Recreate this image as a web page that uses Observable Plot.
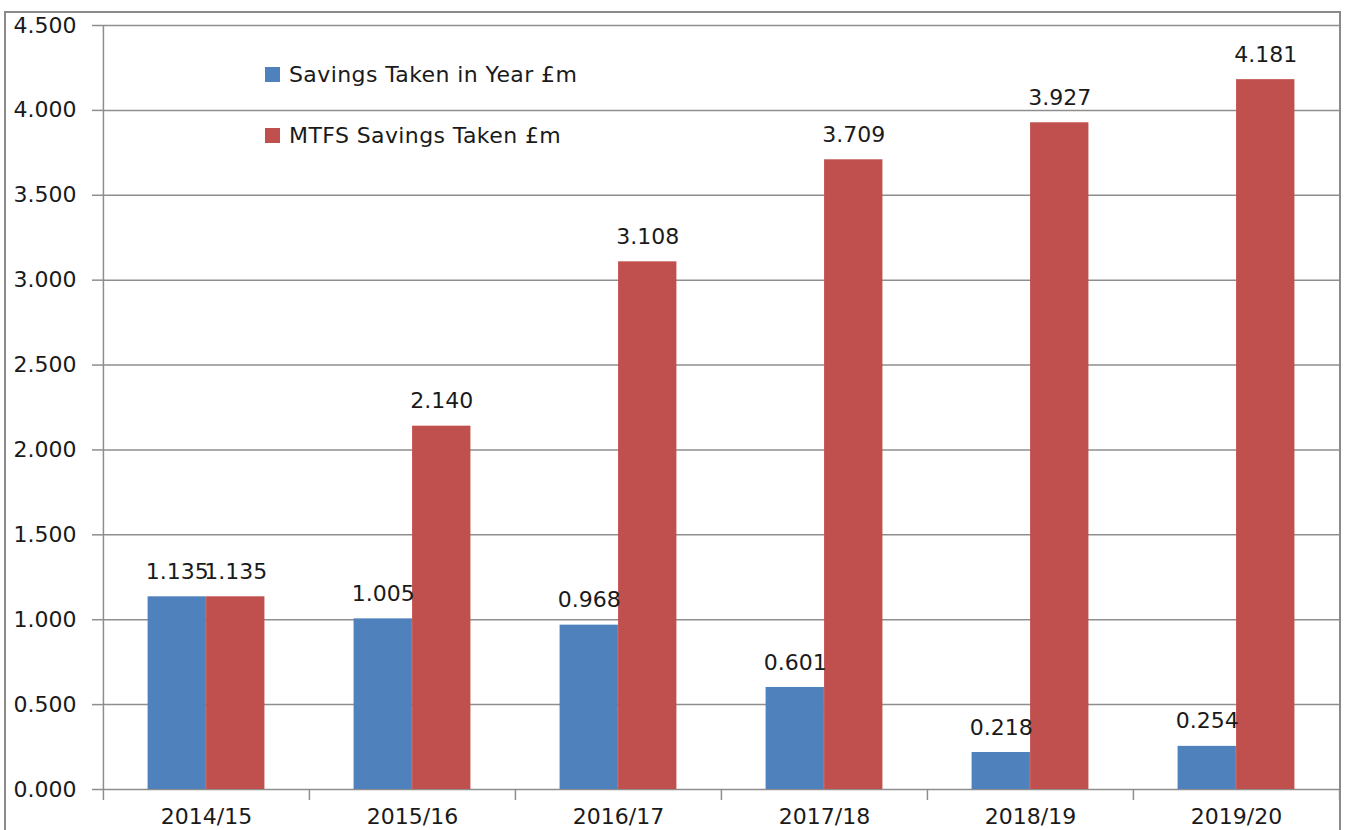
<!DOCTYPE html>
<html><head><meta charset="utf-8">
<script src="https://cdn.jsdelivr.net/npm/d3@7"></script>
<script src="https://cdn.jsdelivr.net/npm/@observablehq/plot@0.6"></script>
<style>
body{margin:0;background:#fff;font-family:"DejaVu Sans",sans-serif;}
#wrap{position:relative;width:1346px;height:830px;overflow:hidden;}
#border{position:absolute;left:4px;top:11px;width:1333px;height:830px;border:2px solid #8a8a8a;border-bottom:none;}
.leg{position:absolute;left:265px;font-size:22px;color:#1a1a1a;display:flex;align-items:center;white-space:nowrap;letter-spacing:0.4px;}
.leg span.sw{display:inline-block;width:15px;height:15px;margin-right:9px;}
</style></head><body>
<div id="wrap"><div id="border"></div><div id="chart"></div>
<div class="leg" style="top:62px"><span class="sw" style="background:#4F81BD"></span>Savings Taken in Year £m</div>
<div class="leg" style="top:123px"><span class="sw" style="background:#C0504D"></span>MTFS Savings Taken £m</div>
</div>
<script>
const years = ["2014/15","2015/16","2016/17","2017/18","2018/19","2019/20"];
const inYear = [1.135,1.005,0.968,0.601,0.218,0.254];
const mtfs = [1.135,2.140,3.108,3.709,3.927,4.181];
const yTicks = [0,0.5,1,1.5,2,2.5,3,3.5,4,4.5];

const W = 1346, H = 830, ML = 102, MR = 7, MT = 25, MB = 41;
const bw = (W - ML - MR) / years.length;
const barW = 58.5;
const blue = "#4F81BD", red = "#C0504D", grid = "#8e8e8e";

const dA = years.map((y,i)=>({year:y, value:inYear[i]}));
const dB = years.map((y,i)=>({year:y, value:mtfs[i]}));
const font = "DejaVu Sans";

const plot = Plot.plot({
  width: W, height: H,
  marginLeft: ML, marginRight: MR, marginTop: MT, marginBottom: MB,
  style: {fontFamily: font, fontSize: "22px", color: "#1a1a1a", background: "transparent", overflow: "visible"},
  x: {domain: years, padding: 0, label: null},
  y: {domain: [0, 4.5], label: null},
  marks: [
    Plot.gridY(yTicks, {stroke: grid, strokeOpacity: 1, strokeWidth: 1.5}),
    Plot.barY(dA, {x: "year", y: "value", fill: blue, insetLeft: bw/2 - barW, insetRight: bw/2}),
    Plot.barY(dB, {x: "year", y: "value", fill: red, insetLeft: bw/2, insetRight: bw/2 - barW}),
    Plot.text(dA, {x: "year", y: "value", text: d => d3.format(".3f")(d.value), dx: -barW/2, dy: -25, fontSize: 22, fill: "#1a1a1a"}),
    Plot.text(dB, {x: "year", y: "value", text: d => d3.format(".3f")(d.value), dx: barW/2, dy: -25, fontSize: 22, fill: "#1a1a1a"}),
    // y axis line
    Plot.ruleX([years[0]], {dx: -bw/2, stroke: grid, strokeWidth: 1.5, insetBottom: -11}),
    // x category boundary ticks
    Plot.ruleX(years.slice(1), {dx: -bw/2, stroke: grid, strokeWidth: 1.5, insetTop: H - MT - MB, insetBottom: -11}),
    Plot.ruleX([years[years.length-1]], {dx: bw/2, stroke: grid, strokeWidth: 1.5, insetTop: H - MT - MB, insetBottom: -11}),
    Plot.axisY(yTicks, {tickSize: 10, tickPadding: 16, tickFormat: d3.format(".3f"), stroke: grid, strokeWidth: 1.5, fontSize: 22, label: null, textAnchor: "end"}),
    Plot.axisX({tickSize: 0, tickPadding: 19, fontSize: 22, label: null})
  ]
});
document.getElementById("chart").appendChild(plot);
</script>
</body></html>
